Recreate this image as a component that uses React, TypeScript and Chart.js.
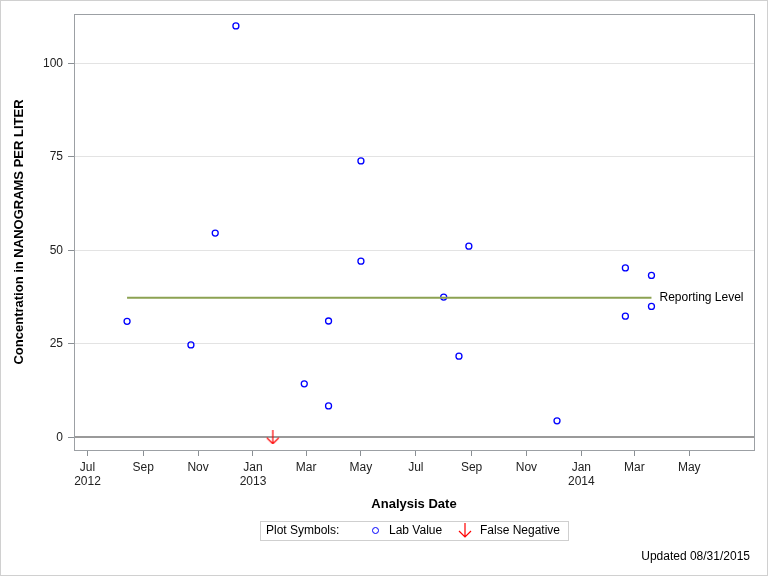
import React, { useEffect, useRef } from 'react';
import { Chart, registerables } from 'chart.js';

Chart.register(...registerables);

// ---- Data ----
const LAB_DATES = [
  '2012-08-14', '2012-10-24', '2012-11-20', '2012-12-13', '2013-02-27',
  '2013-03-26', '2013-03-26', '2013-05-01', '2013-05-01', '2013-08-01',
  '2013-08-18', '2013-08-29', '2013-12-05', '2014-02-19', '2014-02-19',
  '2014-03-20', '2014-03-20',
];
const LAB_VALUES = [
  31.0, 24.7, 54.6, 110.0, 14.3,
  8.4, 31.1, 73.9, 47.1, 37.5,
  21.7, 51.1, 4.4, 45.3, 32.4,
  43.3, 35.0,
];
const FALSE_NEG_DATES = ['2013-01-23'];
const FALSE_NEG_VALUES = [0];

const REPORTING_LEVEL = 37.3;
const REPORTING_START = '2012-08-14';
const REPORTING_END = '2014-03-20';

const X_MIN = '2012-06-16';
const X_MAX = '2014-07-12';
const X_TICK_DATES = [
  '2012-07-01', '2012-09-01', '2012-11-01', '2013-01-01', '2013-03-01', '2013-05-01',
  '2013-07-01', '2013-09-01', '2013-11-01', '2014-01-01', '2014-03-01', '2014-05-01',
];
const X_TICK_LABELS: (string | string[])[] = [
  ['Jul', '2012'], 'Sep', 'Nov', ['Jan', '2013'], 'Mar', 'May',
  'Jul', 'Sep', 'Nov', ['Jan', '2014'], 'Mar', 'May',
];

const Y_MIN = -3.4;
const Y_MAX = 113.2;
const Y_TICKS = [0, 25, 50, 75, 100];

const FONT = '"Liberation Sans", Arial, Helvetica, sans-serif';

function makeArrow(): HTMLCanvasElement {
  const c = document.createElement('canvas');
  c.width = 14;
  c.height = 14;
  const ctx = c.getContext('2d')!;
  ctx.strokeStyle = '#ff0000';
  ctx.lineWidth = 1.2;
  ctx.beginPath();
  ctx.moveTo(7, 0);
  ctx.lineTo(7, 13.5);
  ctx.moveTo(1, 7.5);
  ctx.lineTo(7, 13.5);
  ctx.lineTo(13, 7.5);
  ctx.stroke();
  return c;
}

const decorPlugin = {
  id: 'decor',
  beforeDatasetsDraw(chart: any) {
    const { ctx, chartArea: a, scales } = chart;
    const y0 = scales.y.getPixelForValue(0);
    ctx.save();
    ctx.strokeStyle = '#9a9a9a';
    ctx.lineWidth = 2;
    ctx.beginPath();
    ctx.moveTo(a.left, Math.round(y0));
    ctx.lineTo(a.right, Math.round(y0));
    ctx.stroke();
    ctx.lineWidth = 1;
    ctx.strokeStyle = '#9ca0a4';
    ctx.strokeRect(a.left + 0.5, a.top + 0.5, a.right - a.left, a.bottom - a.top);
    ctx.restore();
  },
  afterDatasetsDraw(chart: any) {
    const { ctx, scales } = chart;
    const x = scales.x.getPixelForValue(Date.parse(REPORTING_END)) + 8;
    const y = scales.y.getPixelForValue(REPORTING_LEVEL);
    ctx.save();
    ctx.font = `12px ${FONT}`;
    ctx.fillStyle = '#000';
    ctx.textBaseline = 'middle';
    ctx.textAlign = 'left';
    ctx.fillText('Reporting Level', x, y);
    ctx.restore();
  },
};

export default function App() {
  const ref = useRef<HTMLCanvasElement>(null);

  useEffect(() => {
    if (!ref.current) return;
    const arrow = makeArrow();
    const chart = new Chart(ref.current, {
      type: 'scatter',
      data: {
        datasets: [
          {
            type: 'line',
            label: 'Reporting Level',
            data: [
              { x: Date.parse(REPORTING_START), y: REPORTING_LEVEL },
              { x: Date.parse(REPORTING_END), y: REPORTING_LEVEL },
            ],
            borderColor: '#8ca252',
            borderWidth: 2,
            pointRadius: 0,
            fill: false,
          } as any,
          {
            label: 'Lab Value',
            data: LAB_DATES.map((d, i) => ({ x: Date.parse(d), y: LAB_VALUES[i] })),
            pointStyle: 'circle',
            pointRadius: 3,
            pointBorderWidth: 1.3,
            borderColor: '#0000ff',
            backgroundColor: 'rgba(0,0,0,0)',
          },
          {
            label: 'False Negative',
            data: FALSE_NEG_DATES.map((d, i) => ({ x: Date.parse(d), y: FALSE_NEG_VALUES[i] })),
            pointStyle: arrow as any,
            pointRadius: 7,
            borderColor: '#ff0000',
            backgroundColor: '#ff0000',
          },
        ],
      },
      options: {
        responsive: false,
        animation: false,
        events: [],
        layout: { padding: { left: 0, right: 14, top: 14, bottom: 60 } },
        plugins: {
          legend: { display: false },
          tooltip: { enabled: false },
        },
        scales: {
          x: {
            type: 'linear',
            min: Date.parse(X_MIN),
            max: Date.parse(X_MAX),
            afterFit: (s: any) => { s.height = 66; },
            afterBuildTicks: (s: any) => {
              s.ticks = X_TICK_DATES.map((d) => ({ value: Date.parse(d) }));
            },
            grid: {
              drawOnChartArea: false,
              drawTicks: true,
              tickLength: 6,
              tickColor: '#8a8f94',
            },
            border: { display: false },
            ticks: {
              autoSkip: false,
              maxRotation: 0,
              padding: 4,
              color: '#222',
              font: { family: FONT, size: 12 },
              callback: (_v: any, i: number) => X_TICK_LABELS[i],
            },
            title: {
              display: true,
              text: 'Analysis Date',
              color: '#000',
              font: { family: FONT, size: 13, weight: 'bold' },
              padding: { top: 0, bottom: 4 },
            },
          },
          y: {
            type: 'linear',
            min: Y_MIN,
            max: Y_MAX,
            afterFit: (s: any) => { s.width = 74; },
            afterBuildTicks: (s: any) => {
              s.ticks = Y_TICKS.map((v) => ({ value: v }));
            },
            grid: {
              color: (c: any) => (c.tick && c.tick.value === 0 ? 'rgba(0,0,0,0)' : '#e3e3e3'),
              tickLength: 6,
              tickColor: '#8a8f94',
            },
            border: { display: false },
            ticks: {
              padding: 5,
              color: '#222',
              font: { family: FONT, size: 12 },
              callback: (v: any) => String(v),
            },
            title: {
              display: true,
              text: 'Concentration in NANOGRAMS PER LITER',
              color: '#000',
              font: { family: FONT, size: 13, weight: 'bold' },
              padding: { top: 12, bottom: 0 },
            },
          },
        },
      },
      plugins: [decorPlugin],
    });
    return () => chart.destroy();
  }, []);

  const textStyle: React.CSSProperties = {
    position: 'absolute',
    top: 0,
    lineHeight: '17px',
    whiteSpace: 'nowrap',
  };

  return (
    <div style={{ position: 'absolute', left: 0, top: 0, width: 768, height: 576, background: '#fff', overflow: 'hidden' }}>
      <canvas ref={ref} width={768} height={576} style={{ display: 'block', width: 768, height: 576 }} />
      <div
        style={{
          position: 'absolute', left: 260, top: 521, width: 309, height: 20,
          border: '1px solid #cfcfcf', boxSizing: 'border-box',
          fontFamily: FONT, fontSize: 12, color: '#000',
        }}
      >
        <span style={{ ...textStyle, left: 5 }}>Plot Symbols:</span>
        <span
          style={{
            position: 'absolute', left: 111, top: 5, width: 7, height: 7,
            border: '1.3px solid #0000ff', borderRadius: '50%', boxSizing: 'border-box',
          }}
        />
        <span style={{ ...textStyle, left: 128 }}>Lab Value</span>
        <svg style={{ position: 'absolute', left: 197, top: 1 }} width={14} height={15} viewBox="0 0 14 15">
          <path d="M7 0 L7 14 M1 8 L7 14 L13 8" stroke="#ff0000" strokeWidth={1.2} fill="none" />
        </svg>
        <span style={{ ...textStyle, left: 219 }}>False Negative</span>
      </div>
      <div
        style={{
          position: 'absolute', right: 18, top: 548, lineHeight: '16px',
          fontFamily: FONT, fontSize: 12, color: '#000', whiteSpace: 'nowrap',
        }}
      >
        Updated 08/31/2015
      </div>
      <div
        style={{
          position: 'absolute', left: 0, top: 0, width: 768, height: 576,
          border: '1px solid #d0d0d0', boxSizing: 'border-box', pointerEvents: 'none',
        }}
      />
    </div>
  );
}
